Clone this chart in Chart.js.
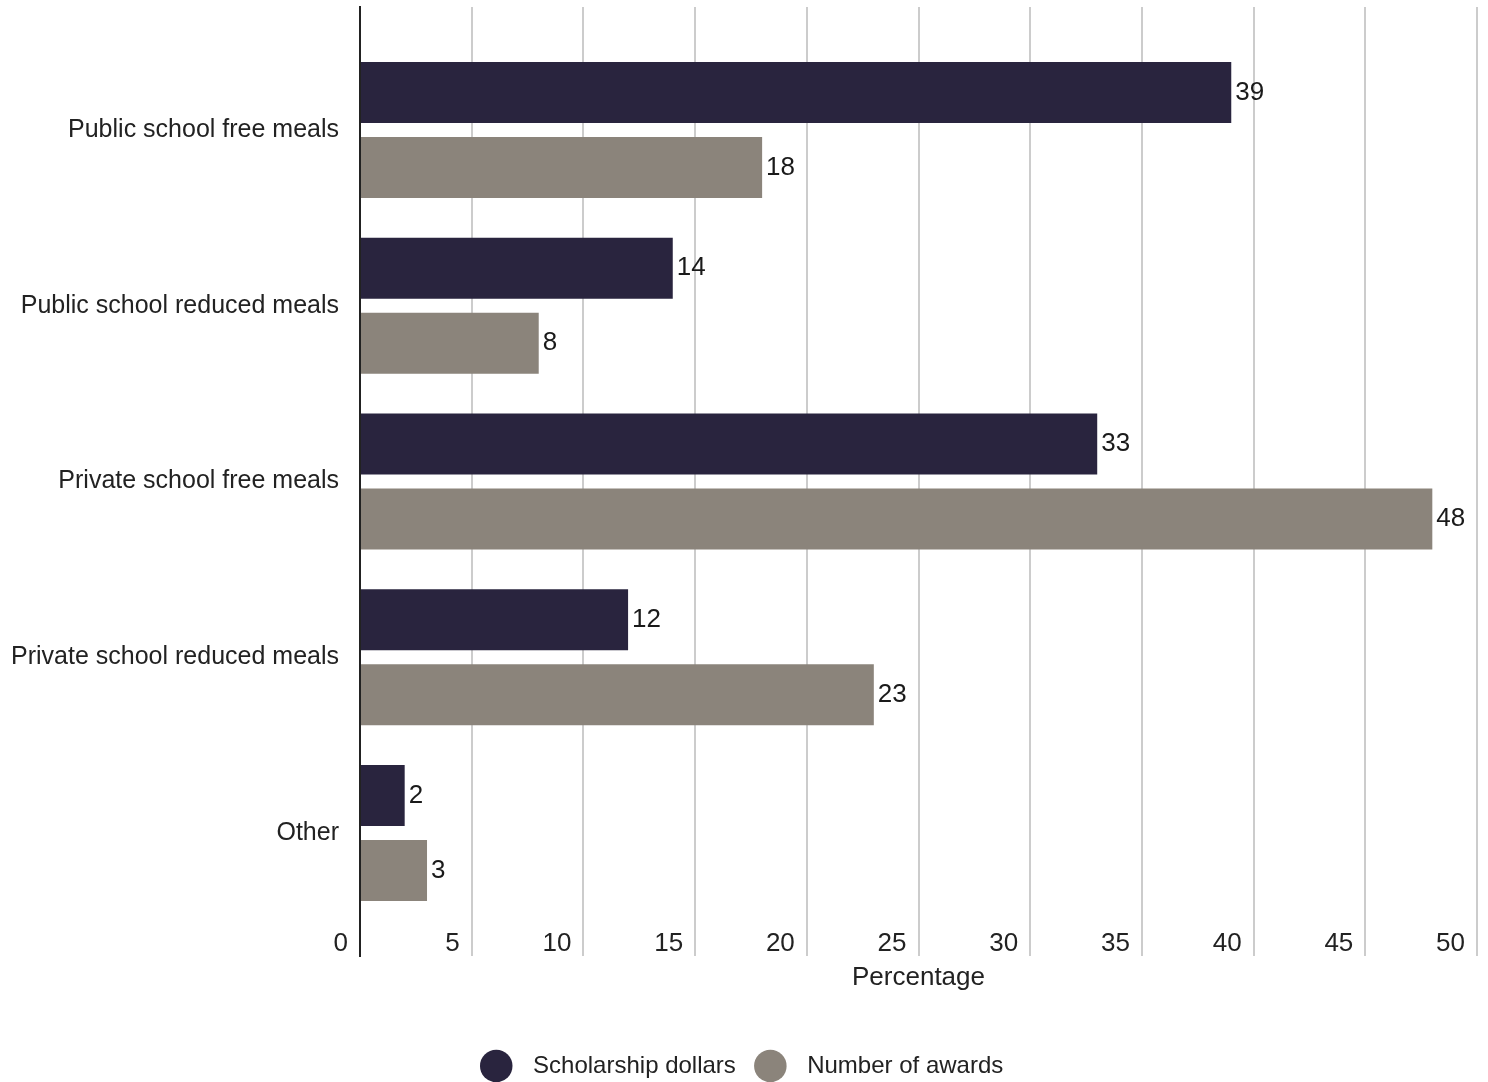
<!DOCTYPE html>
<html lang="en">
  <head>
    <meta charset="UTF-8" />
    <script src="https://cdn.jsdelivr.net/npm/chart.js"></script>
    <title>Meals chart</title>
    <style>
      body { margin: 0; background: #fff; }
    </style>
  </head>
  <body>
    <canvas id="chart" width="1488" height="1082"></canvas>

    <script>
      const categories = [
        'Public school free meals',
        'Public school reduced meals',
        'Private school free meals',
        'Private school reduced meals',
        'Other',
      ]
      const scholarshipDollars = [39, 14, 33, 12, 2]
      const numberOfAwards = [18, 8, 48, 23, 3]
      const xTicks = [0, 5, 10, 15, 20, 25, 30, 35, 40, 45, 50]

      const FONT = "'Liberation Sans', Arial, sans-serif"
      const DARK = '#29243e'
      const GRAY = '#8b847b'

      const toPoints = (values) => values.map((v, i) => ({ x: v, y: i }))

      // writes the value just past the end of each bar
      const valueLabels = {
        id: 'valueLabels',
        afterDatasetsDraw(chart) {
          const ctx = chart.ctx
          ctx.save()
          ctx.font = `26px ${FONT}`
          ctx.fillStyle = '#1a1a1a'
          ctx.textAlign = 'left'
          ctx.textBaseline = 'middle'
          chart.data.datasets.forEach((ds, di) => {
            chart.getDatasetMeta(di).data.forEach((bar, i) => {
              ctx.fillText(ds.data[i].x, bar.x + 4, bar.y)
            })
          })
          ctx.restore()
        },
      }

      const ctx = document.getElementById('chart').getContext('2d')
      new Chart(ctx, {
        type: 'bar',
        data: {
          datasets: [
            {
              label: '  Scholarship dollars',
              data: toPoints(scholarshipDollars),
              backgroundColor: DARK,
              borderWidth: 0,
              barPercentage: 0.813,
              categoryPercentage: 0.8535,
            },
            {
              label: '  Number of awards',
              data: toPoints(numberOfAwards),
              backgroundColor: GRAY,
              borderWidth: 0,
              barPercentage: 0.813,
              categoryPercentage: 0.8535,
            },
          ],
        },
        options: {
          responsive: false,
          animation: false,
          indexAxis: 'y',
          layout: { padding: { top: 7, right: 0, left: 0, bottom: -6 } },
          scales: {
            x: {
              type: 'linear',
              min: 0,
              max: 50,
              afterBuildTicks: (s) => { s.ticks = xTicks.map((v) => ({ value: v })) },
              afterFit: (s) => {
                s.height = 75
                s.paddingLeft = 0
                s.paddingRight = 11
              },
              grid: { color: '#cccccc', lineWidth: 2, drawTicks: false },
              border: { display: false },
              ticks: {
                font: { family: FONT, size: 26 },
                color: '#222',
                labelOffset: -12,
                align: 'end',
                mirror: true,
                padding: -3,
              },
              title: {
                display: true,
                text: 'Percentage',
                font: { family: FONT, size: 26 },
                color: '#222',
                padding: { top: 0, bottom: 38 },
              },
            },
            y: {
              type: 'linear',
              reverse: true,
              offset: false,
              min: -0.7,
              max: 4.7,
              afterBuildTicks: (s) => { s.ticks = categories.map((c, i) => ({ value: i })) },
              afterFit: (s) => {
                s.width = 360
                s.paddingTop = 0
                s.paddingBottom = 0
              },
              grid: { display: false },
              border: { display: true, color: '#222', width: 2 },
              ticks: {
                font: { family: FONT, size: 25 },
                color: '#222',
                padding: 13,
                callback: (v) => categories[v],
              },
            },
          },
          plugins: {
            legend: {
              position: 'bottom',
              labels: {
                usePointStyle: true,
                pointStyle: 'circle',
                boxWidth: 23,
                boxHeight: 23,
                color: '#222',
                font: { family: FONT, size: 24 },
                padding: 23,
              },
            },
            tooltip: { enabled: false },
          },
        },
        plugins: [valueLabels],
      })
    </script>
  </body>
</html>
